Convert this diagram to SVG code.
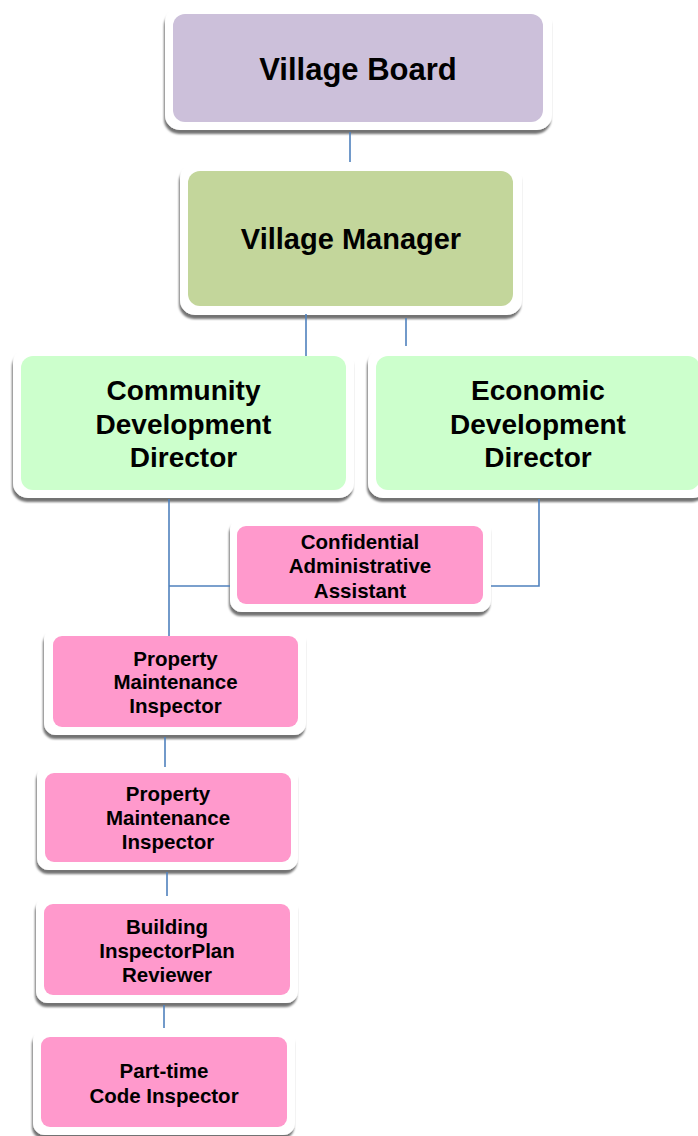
<svg xmlns="http://www.w3.org/2000/svg" width="698" height="1136" viewBox="0 0 698 1136">
<style>
.frame{fill:#ffffff;filter:url(#sh)}
.board{fill:#CCC0DA}
.mgr{fill:#C3D69B}
.dir{fill:#CCFFCC}
.pink{fill:#FF99CC}
text{font-family:"Liberation Sans",Arial,sans-serif;font-weight:bold;fill:#000;text-anchor:middle}
.big{font-size:29px}
.mid{font-size:28px}
.sm{font-size:20.5px}
.conn line,.conn polyline{stroke:#4F81BD;stroke-width:1.6;fill:none}
</style>
<defs>
<filter id="sh" x="-10%" y="-10%" width="120%" height="130%">
<feDropShadow dx="-1" dy="4" stdDeviation="1.3" flood-color="#000" flood-opacity="0.55"/>
</filter>
</defs>
<rect width="698" height="1136" fill="#ffffff"/>

<g id="village-board">
<rect class="frame" x="165" y="7" width="387" height="123" rx="15"/>
<rect class="board" x="173" y="14" width="370" height="108" rx="12"/>
<text class="big" x="358" y="80" style="font-size:31px">Village Board</text>
</g>

<g id="village-manager">
<rect class="frame" x="180" y="163" width="342" height="152" rx="15"/>
<rect class="mgr" x="188" y="171" width="325" height="135" rx="12"/>
<text class="big" x="351" y="249">Village Manager</text>
</g>

<g id="community-director">
<rect class="frame" x="13" y="348" width="341" height="150" rx="15"/>
<rect class="dir" x="21" y="356" width="325" height="134" rx="12"/>
<text class="mid" x="183.5" y="400">Community</text>
<text class="mid" x="183.5" y="434">Development</text>
<text class="mid" x="183.5" y="467">Director</text>
</g>

<g id="economic-director">
<rect class="frame" x="368" y="348" width="340" height="150" rx="15"/>
<rect class="dir" x="376" y="356" width="324" height="134" rx="12"/>
<text class="mid" x="538" y="400">Economic</text>
<text class="mid" x="538" y="434">Development</text>
<text class="mid" x="538" y="467">Director</text>
</g>

<g id="confidential-assistant">
<rect class="frame" x="230" y="518" width="261" height="94" rx="12"/>
<rect class="pink" x="237" y="526" width="246" height="78" rx="9"/>
<text class="sm" x="360" y="549">Confidential</text>
<text class="sm" x="360" y="573">Administrative</text>
<text class="sm" x="360" y="598">Assistant</text>
</g>

<g id="pmi-1">
<rect class="frame" x="44" y="628" width="262" height="107" rx="12"/>
<rect class="pink" x="53" y="636" width="245" height="91" rx="9"/>
<text class="sm" x="175.5" y="666">Property</text>
<text class="sm" x="175.5" y="689">Maintenance</text>
<text class="sm" x="175.5" y="713">Inspector</text>
</g>

<g id="pmi-2">
<rect class="frame" x="37" y="765" width="261" height="105" rx="12"/>
<rect class="pink" x="45" y="773" width="246" height="89" rx="9"/>
<text class="sm" x="168" y="801">Property</text>
<text class="sm" x="168" y="825">Maintenance</text>
<text class="sm" x="168" y="849">Inspector</text>
</g>

<g id="building-inspector">
<rect class="frame" x="36" y="896" width="262" height="107" rx="12"/>
<rect class="pink" x="44" y="904" width="246" height="91" rx="9"/>
<text class="sm" x="167" y="934">Building</text>
<text class="sm" x="167" y="958">InspectorPlan</text>
<text class="sm" x="167" y="982">Reviewer</text>
</g>

<g id="part-time-inspector">
<rect class="frame" x="33" y="1029" width="262" height="106" rx="12"/>
<rect class="pink" x="41" y="1037" width="246" height="90" rx="9"/>
<text class="sm" x="164" y="1078">Part-time</text>
<text class="sm" x="164" y="1103">Code Inspector</text>
</g>

<g class="conn" id="connectors">
<line x1="350" y1="132" x2="350" y2="162"/>
<line x1="306" y1="314" x2="306" y2="356"/>
<line x1="406" y1="318" x2="406" y2="346"/>
<line x1="169" y1="499" x2="169" y2="636"/>
<line x1="169" y1="586" x2="230" y2="586"/>
<polyline points="491,586 539,586 539,499"/>
<line x1="165" y1="737" x2="165" y2="767"/>
<line x1="167" y1="872" x2="167" y2="896"/>
<line x1="164" y1="1005" x2="164" y2="1028"/>
</g>
</svg>
